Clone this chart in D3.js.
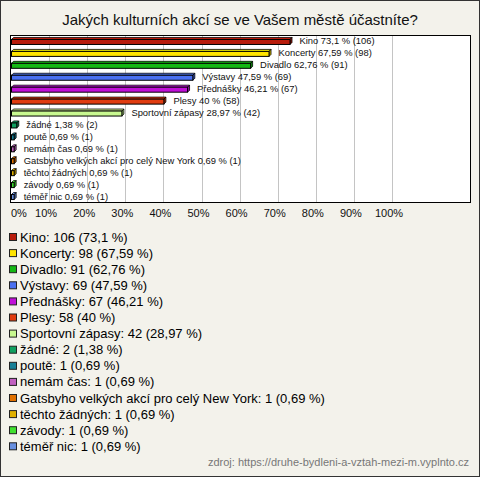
<!DOCTYPE html>
<meta charset="utf-8">
<script src="https://d3js.org/d3.v7.min.js"></script>
<style>
body { margin: 0; background: #f3f2eb; }
svg { display: block; font-family: "Liberation Sans", Arial, sans-serif; }
.grid line { stroke: #c4c4c4; stroke-width: 1; }
.barlabel { font-size: 9.4px; fill: #111; }
.tick text { font-size: 11px; fill: #111; }
.legend text { font-size: 13px; fill: #000; }
</style>
<body>
<script>

var titleText = "Jakých kulturních akcí se ve Vašem městě účastníte?"
var sourceText = "zdroj: https://druhe-bydleni-a-vztah-mezi-m.vyplnto.cz"

var categories = ["Kino", "Koncerty", "Divadlo", "Výstavy", "Přednášky", "Plesy", "Sportovní zápasy",
  "žádné", "poutě", "nemám čas", "Gatsbyho velkých akcí pro celý New York", "těchto žádných", "závody", "téměř nic"]
var counts = [106, 98, 91, 69, 67, 58, 42, 2, 1, 1, 1, 1, 1, 1]
var percents = [73.1, 67.59, 62.76, 47.59, 46.21, 40, 28.97, 1.38, 0.69, 0.69, 0.69, 0.69, 0.69, 0.69]
var colors = ["#b81c0c", "#ffe400", "#14b814", "#4a70f0", "#c010d8", "#e03c10", "#c8f890",
  "#10a060", "#188098", "#c060c0", "#e07000", "#e0b000", "#40e030", "#6890e0"]
var ticks = [0, 10, 20, 30, 40, 50, 60, 70, 80, 90, 100]

var width = 480, height = 477
var plot = {left: 10, right: 470, top: 35, bottom: 202}
var depth = 2

function fmt(v) { return String(v).replace(".", ",") }

var data = categories.map(function(c, i) {
  return {name: c, count: counts[i], pct: percents[i], color: colors[i]}
})

var svg = d3.select("body").append("svg")
  .attr("width", width)
  .attr("height", height)

svg.append("rect")
  .attr("x", 0.5).attr("y", 0.5)
  .attr("width", width - 1).attr("height", height - 1)
  .attr("fill", "#f3f2eb")
  .attr("stroke", "#333")

svg.append("text")
  .attr("x", 240)
  .attr("y", 25)
  .attr("text-anchor", "middle")
  .style("font-size", "15px")
  .attr("fill", "#111")
  .text(titleText)

var xScale = d3.scaleLinear()
  .domain([0, 100])
  .range([11, 392])

var yScale = d3.scaleBand()
  .domain(categories)
  .range([plot.top, plot.bottom])

svg.append("rect")
  .attr("x", plot.left + 0.5).attr("y", plot.top + 0.5)
  .attr("width", plot.right - plot.left).attr("height", plot.bottom - plot.top)
  .attr("fill", "#fff")

svg.append("g")
  .attr("class", "grid")
  .selectAll("line")
  .data(ticks.slice(1))
  .enter().append("line")
  .attr("x1", function(d) { return Math.round(xScale(d)) + 0.5 })
  .attr("x2", function(d) { return Math.round(xScale(d)) + 0.5 })
  .attr("y1", plot.top)
  .attr("y2", plot.bottom)

svg.append("rect")
  .attr("x", plot.left + 0.5).attr("y", plot.top + 0.5)
  .attr("width", plot.right - plot.left).attr("height", plot.bottom - plot.top)
  .attr("fill", "none")
  .attr("stroke", "#000")

// tick labels
svg.append("g")
  .attr("class", "tick")
  .selectAll("text")
  .data(ticks)
  .enter().append("text")
  .attr("x", function(d) { return d == 0 ? xScale(d) : xScale(d) - 3 })
  .attr("y", 217)
  .attr("text-anchor", function(d) { return d == 0 ? "start" : "middle" })
  .text(function(d) { return d + "%" })

// 3d bars
var bars = svg.append("g").selectAll("g")
  .data(data)
  .enter().append("g")
  .attr("transform", function(d) {
    return "translate(0," + (yScale(d.name) + yScale.bandwidth() / 2) + ")"
  })

var h = 5
bars.each(function(d) {
  var g = d3.select(this)
  var x0 = xScale(0) + 0.5, x1 = xScale(d.pct) + 0.5
  var y0 = -1.5
  g.append("path")
    .attr("d", "M" + x0 + "," + y0 + "L" + (x0 + depth) + "," + (y0 - depth) +
      "L" + (x1 + depth) + "," + (y0 - depth) + "L" + x1 + "," + y0 + "Z")
    .attr("fill", d3.color(d.color).brighter(0.3))
    .attr("stroke", "#000")
    .attr("stroke-width", 0.8)
  g.append("path")
    .attr("d", "M" + x1 + "," + y0 + "L" + (x1 + depth) + "," + (y0 - depth) +
      "L" + (x1 + depth) + "," + (y0 + h - depth) + "L" + x1 + "," + (y0 + h) + "Z")
    .attr("fill", d3.color(d.color).darker(0.6))
    .attr("stroke", "#000")
    .attr("stroke-width", 0.8)
  g.append("rect")
    .attr("x", x0).attr("y", y0)
    .attr("width", x1 - x0).attr("height", h)
    .attr("fill", d.color)
    .attr("stroke", "#000")
    .attr("stroke-width", 1)
})

bars.append("text")
  .attr("class", "barlabel")
  .attr("x", function(d) { return xScale(d.pct) + 10 })
  .attr("y", 3.5)
  .text(function(d) { return d.name + " " + fmt(d.pct) + " % (" + d.count + ")" })

// legend
var legend = svg.append("g")
  .attr("class", "legend")
  .selectAll("g")
  .data(data)
  .enter().append("g")
  .attr("transform", function(d, i) { return "translate(0," + (237 + i * 16.1) + ")" })

legend.append("rect")
  .attr("x", 9.5).attr("y", -3.5)
  .attr("width", 7).attr("height", 7)
  .attr("fill", function(d) { return d.color })
  .attr("stroke", "#222")

legend.append("text")
  .attr("x", 20)
  .attr("y", 4.5)
  .text(function(d) { return d.name + ": " + d.count + " (" + fmt(d.pct) + " %)" })

svg.append("text")
  .attr("x", 469)
  .attr("y", 466)
  .attr("text-anchor", "end")
  .style("font-size", "11px")
  .attr("fill", "#777")
  .text(sourceText)

</script>
</body>
